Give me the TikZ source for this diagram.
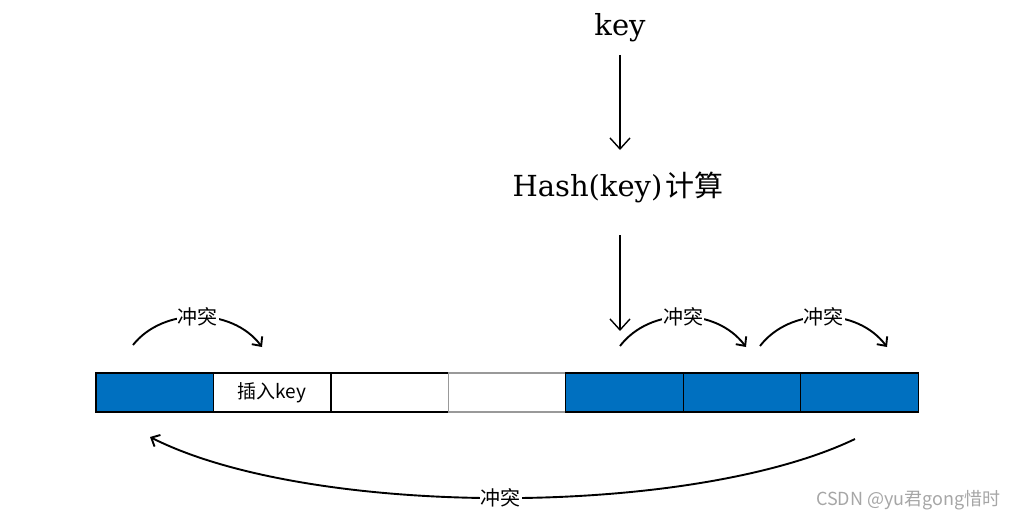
\documentclass[tikz,border=0pt]{standalone}
\usepackage{fontspec}
\setmainfont{DejaVu Serif}
\newfontfamily\cjk{Noto Sans CJK SC}
\usetikzlibrary{arrows.meta}
\definecolor{cellblue}{HTML}{0070C0}
\begin{document}
\begin{tikzpicture}[x=1pt,y=-1pt,
 cell/.style={draw=black, line width=1.2pt, minimum width=117.5pt, minimum height=39pt, inner sep=0pt, outer sep=0pt, anchor=north west},
 full/.style={cell, fill=cellblue},
 lab/.style={font=\cjk\fontsize{20}{20}\selectfont, fill=white, inner sep=1pt},
 big/.style={font=\fontsize{29}{29}\selectfont},
 carrow/.style={line width=1.9pt, -{Straight Barb[length=7pt,width=13pt]}},
 varrow/.style={line width=1.4pt, -{Straight Barb[length=11pt,width=20pt]}}]
\useasboundingbox (0,0) rectangle (1015,522);
% cells
\node[full] (c1) at (96,373) {};
\node[cell, font=\cjk\fontsize{19}{19}\selectfont] (c2) at (213.4,373) {插入key};
\node[cell] (c3) at (330.9,373) {};
\node[cell, draw=gray!80] (c4) at (448.3,373) {};
\node[full] (c5) at (565.7,373) {};
\node[full] (c6) at (683.1,373) {};
\node[full] (c7) at (800.6,373) {};
% texts
\node[big] (key) at (620,28) {key};
\node[big] (hash) at (618,187) {Hash(key)\hspace{3pt}{\cjk 计算}};
\coordinate (hit) at (620,331);
\coordinate (hashtop) at (620,150);
\coordinate (hashbot) at (620,235);
\draw[varrow] ([yshift=-9pt]key.south) -- (hashtop);
\draw[varrow] (hashbot) -- (hit);
% collision arcs
\coordinate (a1) at (133,345); \coordinate (b1) at (262,347);
\coordinate (a2) at (620,346); \coordinate (b2) at (746,347);
\coordinate (a3) at (760,346); \coordinate (b3) at (887,347);
\coordinate (a4) at (855,439); \coordinate (b4) at (150,437);
\draw[carrow] (a1) .. controls (163,307) and (232,307) .. node[lab,pos=0.5] (l1) {冲突} (b1);
\draw[carrow] (a2) .. controls (650,307) and (716,307) .. node[lab,pos=0.5] (l2) {冲突} (b2);
\draw[carrow] (a3) .. controls (790,307) and (857,307) .. node[lab,pos=0.5] (l3) {冲突} (b3);
\draw[carrow] (a4) .. controls (690,518) and (310,518) .. node[lab,pos=0.5] (l4) {冲突} (b4);
% watermark
\node[font=\cjk\fontsize{18}{18}\selectfont, text=gray!70, anchor=east] (wm) at (1004,500) {CSDN @yu君gong惜时};
\end{tikzpicture}
\end{document}
